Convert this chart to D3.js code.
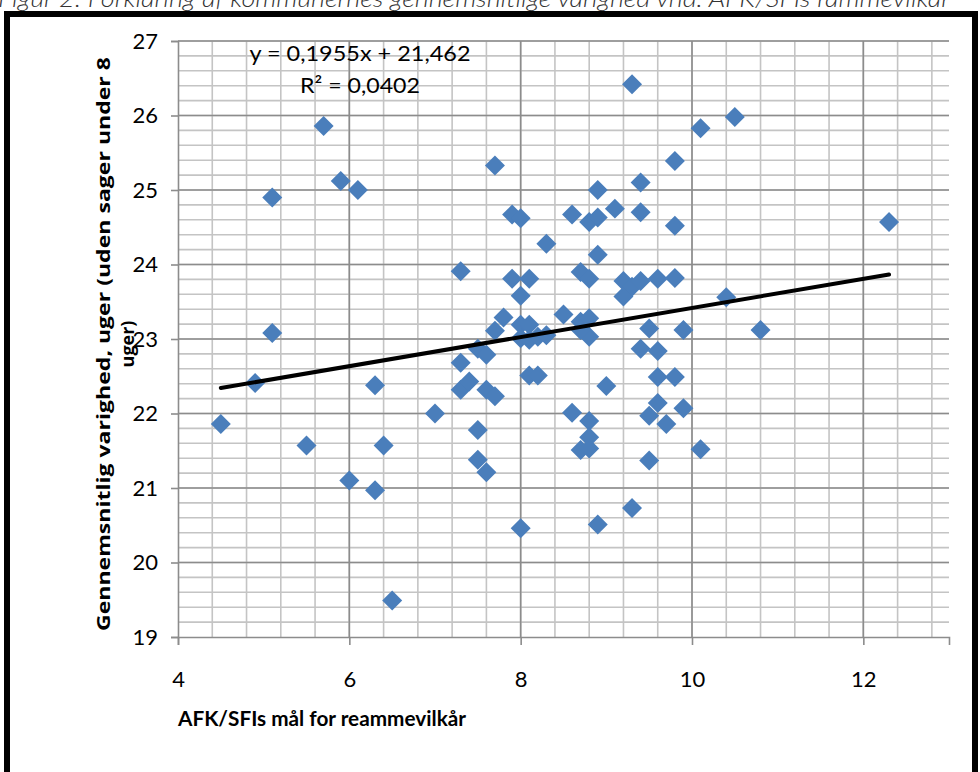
<!DOCTYPE html>
<html>
<head>
<meta charset="utf-8">
<script src="https://cdn.jsdelivr.net/npm/d3@7"></script>
<style>
  html, body { margin: 0; padding: 0; background: #fff; }
  svg { display: block; }
</style>
</head>
<body>
<div id="chart"></div>
<script>
// Data
const afkMaal = [4.5, 4.9, 5.1, 5.1, 5.5, 5.7, 5.9, 6.0, 6.1, 6.3, 6.3, 6.4, 6.5, 7.0,
  7.3, 7.3, 7.3, 7.4, 7.5, 7.5, 7.5, 7.6, 7.6, 7.6, 7.7, 7.7, 7.7, 7.8, 7.9, 7.9,
  8.0, 8.0, 8.0, 8.0, 8.0, 8.1, 8.1, 8.1, 8.1, 8.2, 8.2, 8.3, 8.3, 8.5, 8.6, 8.6,
  8.7, 8.7, 8.7, 8.8, 8.8, 8.8, 8.8, 8.8, 8.8, 8.8, 8.9, 8.9, 8.9, 8.9, 9.0, 9.1,
  9.2, 9.2, 9.3, 9.3, 9.3, 9.4, 9.4, 9.4, 9.4, 9.5, 9.5, 9.5, 9.6, 9.6, 9.6, 9.6,
  9.7, 9.8, 9.8, 9.8, 9.8, 9.9, 9.9, 10.1, 10.1, 10.4, 10.5, 10.8, 12.3, 8.7];
const varighed = [21.86, 22.41, 24.90, 23.08, 21.57, 25.86, 25.12, 21.10, 25.00, 22.38, 20.97, 21.57, 19.49, 22.00,
  23.91, 22.68, 22.32, 22.43, 22.87, 21.78, 21.38, 22.79, 22.32, 21.21, 25.33, 23.11, 22.23, 23.29, 24.67, 23.81,
  24.62, 23.58, 23.19, 23.01, 20.46, 23.81, 23.19, 22.99, 22.51, 23.03, 22.51, 24.28, 23.05, 23.33, 24.67, 22.01,
  23.90, 23.23, 21.51, 24.57, 23.81, 23.28, 23.03, 21.90, 21.68, 21.53, 25.00, 24.63, 24.13, 20.51, 22.37, 24.75,
  23.78, 23.57, 26.42, 23.70, 20.73, 25.10, 24.70, 23.78, 22.87, 23.14, 21.97, 21.37, 23.81, 22.84, 22.49, 22.14,
  21.86, 25.39, 24.52, 23.82, 22.49, 23.12, 22.07, 25.83, 21.52, 23.56, 25.98, 23.12, 24.57, 23.12];

const xTicks = [4, 6, 8, 10, 12];
const yTicks = [19, 20, 21, 22, 23, 24, 25, 26, 27];
const trendSlope = 0.1955;
const trendIntercept = 21.462;
const trendLabels = ["y = 0,1955x + 21,462", "R² = 0,0402"];

const title = "Figur 2: Forklaring af kommunernes gennemsnitlige varighed vhd. AFK/SFIs rammevilkår";
const xTitle = "AFK/SFIs mål for reammevilkår";
const yTitle = ["Gennemsnitlig varighed, uger (uden sager under 8", "uger)"];

const W = 980, H = 772;
const plot = { left: 178, right: 949, top: 41, bottom: 637 };
const font = "Lato, 'Open Sans', sans-serif";
const boldFont = "'Open Sans', Lato, sans-serif";

const x = d3.scaleLinear().domain([4, 13]).range([plot.left, plot.right]);
const y = d3.scaleLinear().domain([19, 27]).range([plot.bottom, plot.top]);

const svg = d3.select("#chart").append("svg")
    .attr("width", W)
    .attr("height", H)
    .attr("font-family", font);

// title, cut off by the top edge like in the scan
svg.append("text")
    .attr("x", -2)
    .attr("y", 7)
    .attr("font-size", 24)
    .attr("font-style", "italic")
    .attr("font-weight", 300)
    .attr("fill", "#333")
    .attr("textLength", 952)
    .attr("lengthAdjust", "spacingAndGlyphs")
    .text(title);

// frame
svg.append("rect")
    .attr("x", 7).attr("y", 14)
    .attr("width", 968).attr("height", 800)
    .attr("fill", "none")
    .attr("stroke", "#000")
    .attr("stroke-width", 6);

// minor grid
const gx = d3.range(4.4, 12.9, 0.4);
const gy = d3.range(19.2, 27.01, 0.2);
const grid = svg.append("g");
grid.selectAll(".vx").data(gx).join("line")
    .attr("x1", d => x(d)).attr("x2", d => x(d))
    .attr("y1", plot.top).attr("y2", plot.bottom)
    .attr("stroke", "#c4c4c4").attr("stroke-width", 1.6);
grid.selectAll(".hy").data(gy).join("line")
    .attr("x1", plot.left).attr("x2", plot.right)
    .attr("y1", d => y(d)).attr("y2", d => y(d))
    .attr("stroke", "#c4c4c4").attr("stroke-width", 1.6);

// major grid
grid.selectAll(".mx").data(xTicks.slice(1)).join("line")
    .attr("x1", d => x(d)).attr("x2", d => x(d))
    .attr("y1", plot.top).attr("y2", plot.bottom)
    .attr("stroke", "#8c8c8c").attr("stroke-width", 1.6);
grid.selectAll(".my").data(yTicks.slice(1)).join("line")
    .attr("x1", plot.left).attr("x2", plot.right)
    .attr("y1", d => y(d)).attr("y2", d => y(d))
    .attr("stroke", "#8c8c8c").attr("stroke-width", 1.6);

// axes
const xAxis = svg.append("g")
    .attr("transform", `translate(0,${plot.bottom})`)
    .call(d3.axisBottom(x).tickValues(xTicks).tickSize(8).tickPadding(26));
const yAxis = svg.append("g")
    .attr("transform", `translate(${plot.left},0)`)
    .call(d3.axisLeft(y).tickValues(yTicks).tickSize(7).tickPadding(13));
[xAxis, yAxis].forEach(a => {
  a.select(".domain").attr("stroke", "#8c8c8c").attr("stroke-width", 1.6);
  a.selectAll(".tick line").attr("stroke", "#8c8c8c").attr("stroke-width", 1.6);
  a.selectAll(".tick text")
    .attr("font-family", font)
    .attr("font-size", 22)
    .attr("fill", "#000");
});

// points
const diamond = d3.symbol(d3.symbolSquare, 200);
svg.append("g").selectAll("path")
    .data(afkMaal.map((v, i) => [v, varighed[i]]))
    .join("path")
    .attr("d", diamond)
    .attr("transform", d => `translate(${x(d[0])},${y(d[1])}) rotate(45)`)
    .attr("fill", "#4a7ebb");

// linear trendline over the data range
const xr = d3.extent(afkMaal);
svg.append("line")
    .attr("x1", x(xr[0])).attr("y1", y(trendSlope * xr[0] + trendIntercept))
    .attr("x2", x(xr[1])).attr("y2", y(trendSlope * xr[1] + trendIntercept))
    .attr("stroke", "#000")
    .attr("stroke-width", 4)
    .attr("stroke-linecap", "round");

svg.append("g").selectAll("text")
    .data(trendLabels)
    .join("text")
    .attr("x", 360)
    .attr("y", (d, i) => 61 + i * 32)
    .attr("text-anchor", "middle")
    .attr("font-size", 22)
    .attr("textLength", (d, i) => i ? 120 : 221)
    .attr("lengthAdjust", "spacingAndGlyphs")
    .text(d => d);

// axis titles
svg.append("text")
    .attr("x", plot.left)
    .attr("y", 726)
    .attr("font-family", font)
    .attr("font-size", 20)
    .attr("font-weight", "bold")
    .attr("textLength", 288)
    .attr("lengthAdjust", "spacingAndGlyphs")
    .text(xTitle);

svg.append("g")
    .attr("transform", "translate(110,344) rotate(-90)")
    .selectAll("text")
    .data(yTitle)
    .join("text")
    .attr("x", 0)
    .attr("y", (d, i) => i * 24)
    .attr("text-anchor", "middle")
    .attr("font-family", boldFont)
    .attr("font-size", 18)
    .attr("font-weight", "bold")
    .attr("textLength", (d, i) => i ? null : 574)
    .attr("lengthAdjust", "spacingAndGlyphs")
    .text(d => d);
</script>
</body>
</html>
